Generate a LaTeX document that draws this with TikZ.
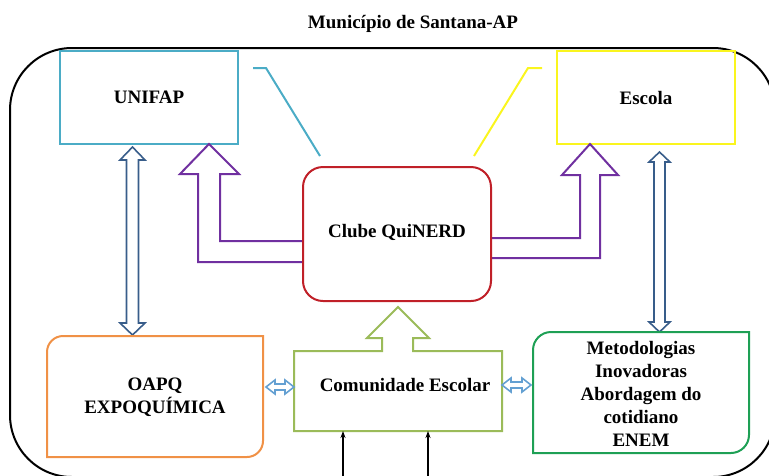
\documentclass[tikz,border=0pt]{standalone}
\usepackage{fontspec}
\setmainfont{Liberation Serif}
\usetikzlibrary{arrows.meta}
\definecolor{cUnifap}{RGB}{75,172,198}
\definecolor{cEscola}{RGB}{250,245,30}
\definecolor{cClube}{RGB}{192,32,40}
\definecolor{cPurple}{RGB}{112,48,160}
\definecolor{cNavy}{RGB}{56,93,138}
\definecolor{cOrange}{RGB}{240,145,70}
\definecolor{cGreen}{RGB}{30,160,85}
\definecolor{cLight}{RGB}{155,187,89}
\definecolor{cSky}{RGB}{100,160,210}
\begin{document}
\begin{tikzpicture}[x=1pt,y=-1pt,
  txt/.style={font=\fontsize{19}{23}\selectfont\bfseries, align=center, text=black, inner sep=0pt},
  box/.style={txt, draw, line width=2pt},
  blockarrow/.style={line width=1.6pt, fill=white, line join=miter},
  callout/.style={line width=2pt},
  feed/.style={line width=1.5pt, -{Stealth[length=7pt,width=5pt]}}]
\useasboundingbox (0,0) rectangle (769,475);
% outer frame
\draw[line width=2pt, rounded corners=62pt] (10,48) rectangle (775,477);
\node[txt] (title) at (413,24) {Município de Santana-AP};
% top boxes
\node[box, draw=cUnifap, minimum width=178pt, minimum height=93pt] (unifap) at (149,97.5) {UNIFAP};
\node[box, draw=cEscola, line width=2.5pt, minimum width=178pt, minimum height=93pt] (escola) at (646,97.5) {Escola};
% callout lines
\coordinate (cu1) at (253,68); \coordinate (cu2) at (266,68); \coordinate (cu3) at (320,156);
\draw[callout, draw=cUnifap] (cu1) -- (cu2) -- (cu3);
\coordinate (ce1) at (542,68); \coordinate (ce2) at (528,68); \coordinate (ce3) at (474,156);
\draw[callout, draw=cEscola] (ce1) -- (ce2) -- (ce3);
% purple block arrows
\draw[blockarrow, draw=cPurple, line width=2pt] (303,241) -- (220,241) -- (220,174) -- (239,174) -- (209,144) -- (180,174) -- (198,174) -- (198,262) -- (303,262);
\draw[blockarrow, draw=cPurple, line width=2pt] (491,238) -- (580,238) -- (580,175) -- (562,175) -- (590,144) -- (618,175) -- (600,175) -- (600,258) -- (491,258);
% central club
\node[box, draw=cClube, rounded corners=20pt, minimum width=188pt, minimum height=134pt] (clube) at (397,234) {\raisebox{7pt}{Clube QuiNERD}};
% navy double arrows
\draw[blockarrow, draw=cNavy] (132.5,147) -- (145,160) -- (138.5,160) -- (138.5,323) -- (145,323) -- (132.5,335) -- (120,323) -- (126.5,323) -- (126.5,160) -- (120,160) -- cycle;
\draw[blockarrow, draw=cNavy] (659.5,152) -- (670,162) -- (665,162) -- (665,322) -- (670,322) -- (659.5,332) -- (649,322) -- (654,322) -- (654,162) -- (649,162) -- cycle;
% OAPQ box (rounded top-left and bottom-right)
\draw[draw=cOrange, line width=2pt, fill=white] (47,457) -- (47,352) .. controls (47,343.2) and (54.2,336) .. (63,336) -- (263,336) -- (263,441) .. controls (263,449.8) and (255.8,457) .. (247,457) -- cycle;
\node[txt] (oapq) at (155,397) {OAPQ\\EXPOQUÍMICA};
% Metodologias box
\draw[draw=cGreen, line width=2pt, fill=white] (533,453) -- (533,350) .. controls (533,340.1) and (541.1,332) .. (551,332) -- (749,332) -- (749,435) .. controls (749,444.9) and (740.9,453) .. (731,453) -- cycle;
\node[txt] (metod) at (641,394) {Metodologias\\Inovadoras\\Abordagem do\\cotidiano\\ENEM};
% Comunidade box with up arrow
\draw[draw=cLight, line width=2pt, fill=white] (294,351) -- (382,351) -- (382,338) -- (367,338) -- (398,307) -- (429,338) -- (413,338) -- (413,351) -- (502,351) -- (502,431) -- (294,431) -- cycle;
\node[txt] (comun) at (405,385) {Comunidade Escolar};
% light blue double arrows
\draw[blockarrow, draw=cSky] (266,387) -- (275,380) -- (275,384) -- (285,384) -- (285,380) -- (294,387) -- (285,394) -- (285,390) -- (275,390) -- (275,394) -- cycle;
\draw[blockarrow, draw=cSky] (502,385) -- (511,378) -- (511,382) -- (522,382) -- (522,378) -- (531,385) -- (522,392) -- (522,388) -- (511,388) -- (511,392) -- cycle;
% black inputs from below
\coordinate (in1) at (343,478); \coordinate (in2) at (428,478);
\draw[feed] (in1) -- (in1 |- 0,431);
\draw[feed] (in2) -- (in2 |- 0,431);
\end{tikzpicture}
\end{document}
